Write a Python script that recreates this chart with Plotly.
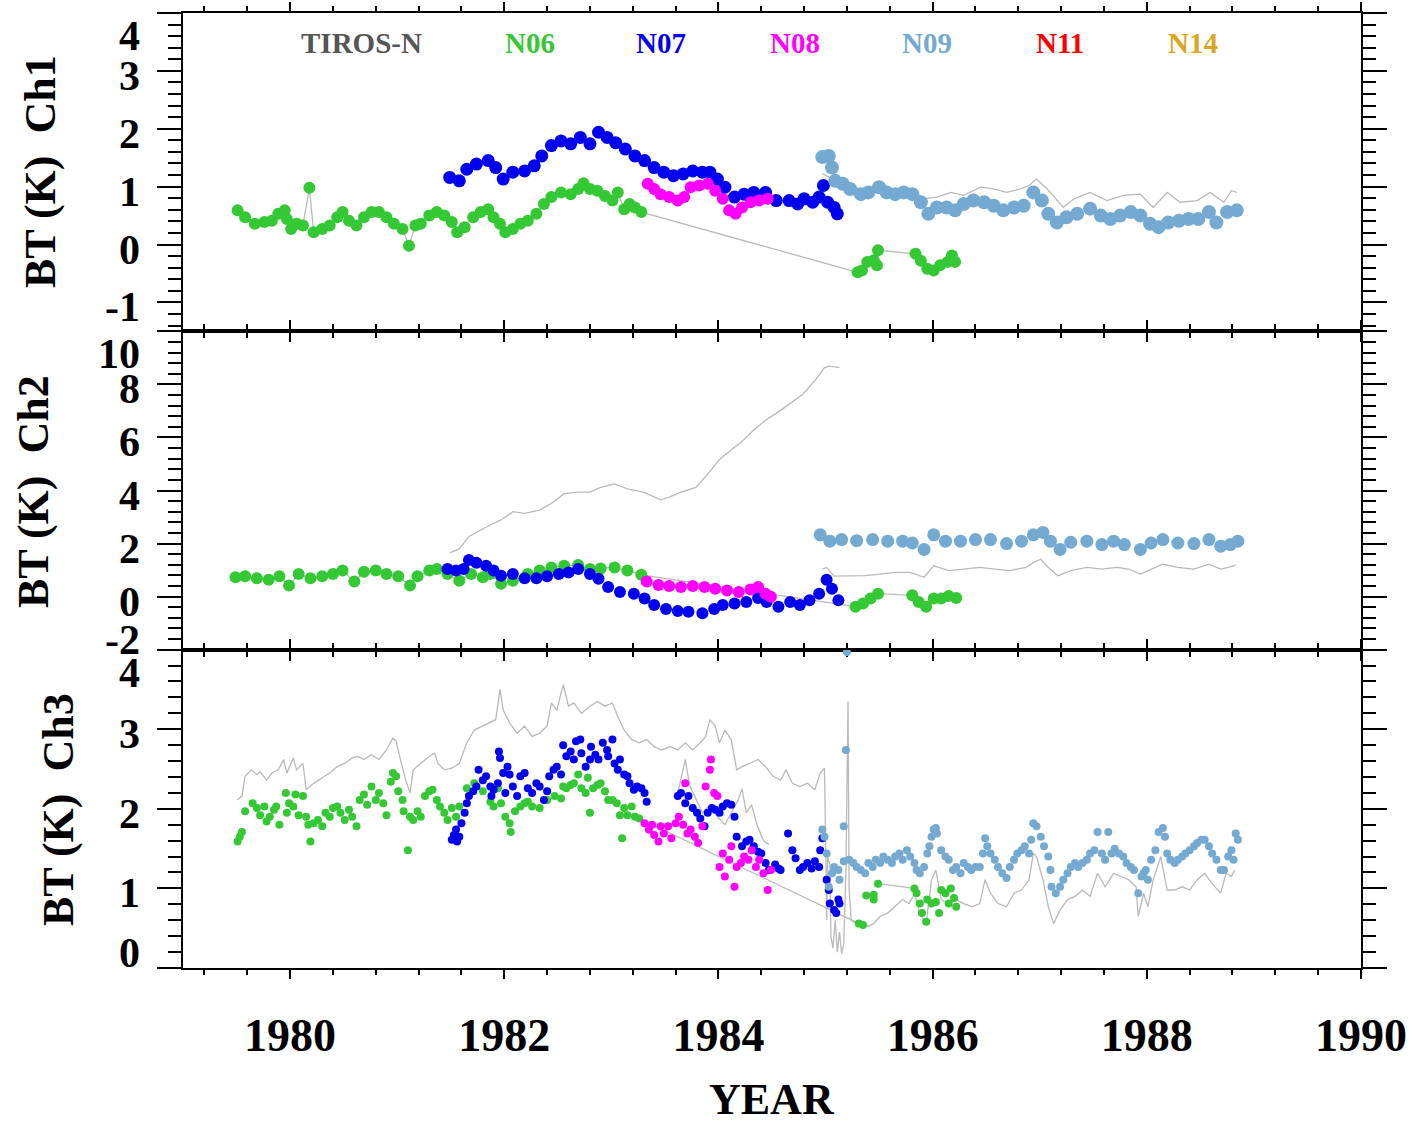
import plotly.graph_objects as go
from plotly.subplots import make_subplots

# ---------------- DATA ----------------
# Ch1
ch1_n06_year = [1979.51,1979.58,1979.67,1979.76,1979.83,1979.89,1979.95,1979.97,1980.01,1980.06,1980.12,1980.18,1980.22,1980.30,1980.37,1980.44,1980.49,1980.55,1980.62,1980.69,1980.76,1980.83,1980.90,1980.97,1981.05,1981.11,1981.17,1981.22,1981.30,1981.37,1981.44,1981.51,1981.56,1981.63,1981.71,1981.78,1981.85,1981.90,1981.96,1982.01,1982.08,1982.15,1982.22,1982.30,1982.37,1982.44,1982.53,1982.62,1982.69,1982.74,1982.80,1982.87,1982.94,1983.01,1983.06,1983.12,1983.17,1983.22,1983.28,1985.30,1985.34,1985.39,1985.45,1985.48,1985.49,1985.84,1985.89,1985.95,1986.01,1986.07,1986.14,1986.18,1986.21]
ch1_n06_bt = [0.59,0.47,0.36,0.39,0.41,0.53,0.59,0.44,0.27,0.36,0.33,0.98,0.21,0.27,0.33,0.47,0.56,0.41,0.33,0.47,0.56,0.56,0.47,0.36,0.27,-0.02,0.33,0.36,0.50,0.56,0.50,0.39,0.21,0.30,0.47,0.56,0.61,0.47,0.36,0.21,0.27,0.36,0.41,0.53,0.70,0.82,0.90,0.87,0.96,1.06,0.96,0.93,0.84,0.76,0.90,0.61,0.70,0.64,0.56,-0.48,-0.45,-0.30,-0.27,-0.36,-0.10,-0.16,-0.28,-0.42,-0.45,-0.36,-0.30,-0.19,-0.30]

ch1_n07_year = [1981.49,1981.58,1981.65,1981.74,1981.85,1981.92,1981.99,1982.08,1982.19,1982.28,1982.35,1982.44,1982.53,1982.62,1982.71,1982.80,1982.88,1982.96,1983.04,1983.13,1983.22,1983.31,1983.40,1983.49,1983.58,1983.67,1983.76,1983.85,1983.92,1983.99,1984.06,1984.15,1984.24,1984.33,1984.44,1984.54,1984.66,1984.74,1984.80,1984.88,1984.94,1984.98,1985.02,1985.08,1985.11]
ch1_n07_bt = [1.16,1.10,1.30,1.39,1.45,1.33,1.13,1.25,1.27,1.36,1.53,1.71,1.79,1.74,1.85,1.74,1.94,1.85,1.76,1.65,1.53,1.45,1.33,1.25,1.19,1.22,1.27,1.25,1.25,1.13,0.99,0.82,0.87,0.90,0.90,0.76,0.76,0.70,0.79,0.73,0.82,1.02,0.73,0.64,0.53]

ch1_n08_year = [1983.34,1983.40,1983.46,1983.54,1983.62,1983.68,1983.74,1983.82,1983.90,1983.97,1984.04,1984.10,1984.16,1984.22,1984.30,1984.38,1984.46]
ch1_n08_bt = [1.05,0.96,0.87,0.82,0.76,0.82,0.99,1.02,1.05,0.93,0.79,0.59,0.53,0.64,0.73,0.76,0.79]

ch1_n09_year = [1984.97,1985.03,1985.06,1985.09,1985.16,1985.23,1985.33,1985.40,1985.50,1985.57,1985.65,1985.73,1985.81,1985.89,1985.96,1986.04,1986.13,1986.21,1986.29,1986.38,1986.48,1986.57,1986.66,1986.76,1986.85,1986.94,1987.02,1987.08,1987.16,1987.25,1987.35,1987.47,1987.57,1987.66,1987.75,1987.85,1987.94,1988.03,1988.11,1988.20,1988.30,1988.39,1988.48,1988.58,1988.65,1988.75,1988.84]
ch1_n09_bt = [1.51,1.53,1.33,1.10,1.05,0.96,0.87,0.90,0.99,0.90,0.87,0.90,0.87,0.73,0.53,0.64,0.64,0.59,0.70,0.76,0.73,0.67,0.59,0.64,0.67,0.90,0.76,0.53,0.38,0.47,0.53,0.62,0.50,0.44,0.50,0.56,0.50,0.36,0.30,0.38,0.41,0.44,0.44,0.56,0.38,0.56,0.59]

ch1_gray_year = [1984.97,1985.08,1985.20,1985.39,1985.51,1985.67,1985.82,1985.92,1986.04,1986.17,1986.29,1986.45,1986.57,1986.69,1986.82,1986.90,1986.97,1987.07,1987.22,1987.32,1987.47,1987.63,1987.78,1987.94,1988.06,1988.19,1988.31,1988.47,1988.59,1988.72,1988.79,1988.84]
ch1_gray_bt = [1.22,1.13,1.02,0.93,1.00,0.93,0.92,0.79,0.82,0.90,0.85,0.99,0.96,0.90,0.96,1.02,1.13,0.96,0.64,0.79,0.90,0.76,0.85,0.87,0.64,0.90,0.73,0.76,0.90,0.73,0.93,0.90]

# Ch2
ch2_n06_year = [1979.49,1979.58,1979.69,1979.80,1979.90,1979.99,1980.08,1980.19,1980.30,1980.40,1980.49,1980.60,1980.69,1980.80,1980.90,1981.01,1981.12,1981.19,1981.30,1981.37,1981.47,1981.58,1981.69,1981.80,1981.87,1981.97,1982.08,1982.22,1982.33,1982.44,1982.56,1982.69,1982.80,1982.90,1983.03,1983.15,1983.28,1985.28,1985.35,1985.42,1985.49,1985.81,1985.87,1985.94,1986.01,1986.08,1986.15,1986.22]
ch2_n06_bt = [0.73,0.77,0.69,0.64,0.77,0.42,0.85,0.69,0.77,0.85,0.98,0.57,0.94,0.98,0.85,0.77,0.42,0.77,0.98,1.04,0.85,0.60,0.85,0.73,0.85,0.48,0.60,0.85,0.98,1.10,1.16,1.19,1.04,1.06,1.10,0.98,0.82,-0.38,-0.26,-0.07,0.11,0.05,-0.20,-0.38,-0.07,-0.07,0.02,-0.05]

ch2_n07_year = [1981.47,1981.55,1981.62,1981.67,1981.74,1981.83,1981.90,1981.97,1982.08,1982.19,1982.30,1982.40,1982.51,1982.60,1982.69,1982.80,1982.88,1982.97,1983.08,1983.21,1983.31,1983.40,1983.51,1983.62,1983.72,1983.85,1983.96,1984.04,1984.15,1984.26,1984.37,1984.45,1984.56,1984.67,1984.76,1984.85,1984.94,1985.01,1985.06,1985.12]
ch2_n07_bt = [1.04,0.98,1.04,1.38,1.28,1.16,0.98,0.79,0.85,0.69,0.69,0.77,0.85,0.91,1.04,0.85,0.67,0.36,0.17,0.11,-0.07,-0.32,-0.47,-0.54,-0.57,-0.63,-0.47,-0.32,-0.26,-0.20,-0.05,-0.20,-0.38,-0.20,-0.32,-0.14,0.11,0.64,0.30,-0.14]

ch2_n08_year = [1983.33,1983.44,1983.54,1983.65,1983.76,1983.87,1983.97,1984.08,1984.19,1984.30,1984.37,1984.44,1984.49]
ch2_n08_bt = [0.57,0.44,0.40,0.36,0.40,0.36,0.30,0.23,0.17,0.27,0.36,0.11,-0.01]

ch2_n09_year = [1984.95,1985.04,1985.15,1985.29,1985.44,1985.58,1985.72,1985.81,1985.92,1986.01,1986.12,1986.26,1986.40,1986.54,1986.69,1986.83,1986.94,1987.03,1987.10,1987.19,1987.29,1987.44,1987.58,1987.69,1987.79,1987.94,1988.04,1988.15,1988.29,1988.44,1988.58,1988.69,1988.78,1988.85]
ch2_n09_bt = [2.33,2.09,2.15,2.11,2.15,2.09,2.09,2.02,1.78,2.33,2.09,2.09,2.15,2.15,2.00,2.09,2.33,2.42,2.09,1.78,2.05,2.09,1.96,2.09,1.96,1.78,2.02,2.15,2.02,2.00,2.15,1.90,1.96,2.09]

ch2_gray_hi_year = [1981.49,1981.58,1981.67,1981.78,1981.87,1981.97,1982.08,1982.19,1982.33,1982.44,1982.56,1982.69,1982.80,1982.90,1983.03,1983.15,1983.30,1983.46,1983.54,1983.65,1983.79,1983.90,1984.01,1984.12,1984.22,1984.33,1984.44,1984.58,1984.69,1984.79,1984.90,1984.99,1985.04,1985.13]
ch2_gray_hi_bt = [1.65,1.80,2.27,2.52,2.70,2.89,3.20,3.14,3.26,3.51,3.88,3.94,3.94,4.12,4.25,4.06,3.94,3.65,3.75,3.94,4.12,4.62,5.17,5.54,5.85,6.28,6.65,7.02,7.33,7.64,8.14,8.63,8.69,8.63]

ch2_gray_lo_year = [1984.97,1985.01,1985.08,1985.22,1985.37,1985.51,1985.65,1985.79,1985.92,1986.01,1986.15,1986.29,1986.44,1986.58,1986.72,1986.87,1986.94,1987.01,1987.08,1987.17,1987.29,1987.44,1987.58,1987.72,1987.83,1987.94,1988.04,1988.15,1988.29,1988.44,1988.58,1988.69,1988.76,1988.83]
ch2_gray_lo_bt = [1.04,1.10,0.77,0.79,0.79,0.85,0.91,0.91,0.73,1.16,0.98,1.04,1.10,1.04,0.98,1.10,1.28,1.41,1.10,0.79,0.98,1.10,1.04,1.10,1.04,0.85,1.04,1.22,1.10,1.04,1.22,1.04,1.10,1.19]

# Ch3
ch3_n06_year = [1979.51,1979.53,1979.55,1979.58,1979.65,1979.69,1979.72,1979.76,1979.78,1979.81,1979.85,1979.87,1979.90,1979.96,1979.97,1979.99,1980.03,1980.05,1980.08,1980.12,1980.15,1980.17,1980.19,1980.22,1980.26,1980.30,1980.33,1980.37,1980.40,1980.44,1980.47,1980.51,1980.55,1980.58,1980.62,1980.65,1980.69,1980.72,1980.76,1980.80,1980.83,1980.87,1980.90,1980.94,1980.96,1980.99,1981.01,1981.05,1981.06,1981.10,1981.12,1981.15,1981.19,1981.22,1981.26,1981.30,1981.33,1981.37,1981.40,1981.44,1981.47,1981.51,1981.55,1981.58,1981.65,1981.72,1981.80,1981.87,1981.90,1981.94,1981.97,1982.01,1982.05,1982.06,1982.10,1982.15,1982.19,1982.22,1982.26,1982.33,1982.40,1982.47,1982.53,1982.55,1982.58,1982.62,1982.65,1982.69,1982.72,1982.76,1982.78,1982.80,1982.83,1982.87,1982.90,1982.94,1982.97,1983.01,1983.05,1983.08,1983.10,1983.12,1983.15,1983.19,1983.22,1983.26,1985.31,1985.35,1985.38,1985.45,1985.45,1985.49,1985.83,1985.85,1985.88,1985.90,1985.94,1985.95,1985.99,1986.03,1986.06,1986.08,1986.12,1986.15,1986.17,1986.20,1986.22]
ch3_n06_bt = [1.59,1.65,1.71,1.97,2.07,2.01,1.92,2.03,1.84,1.90,1.99,2.03,1.80,2.20,1.95,2.07,2.03,2.18,1.92,2.16,1.90,1.80,1.59,1.82,1.86,1.78,1.95,1.90,2.01,2.03,1.95,1.86,1.99,1.90,1.78,2.11,2.18,2.05,2.28,2.11,2.20,2.07,1.92,2.34,2.45,2.41,2.22,2.11,1.97,1.48,1.90,1.86,1.97,1.90,2.16,2.22,2.24,2.11,2.03,1.95,1.86,2.01,1.90,2.03,2.26,2.32,2.22,2.09,2.03,2.26,2.07,1.90,1.82,1.71,1.97,2.03,2.07,2.09,2.03,2.01,2.11,2.16,2.13,2.28,2.26,2.30,2.32,2.43,2.26,2.20,2.39,1.95,2.26,2.30,2.32,2.22,2.11,2.11,2.07,1.92,1.63,2.01,1.92,2.03,1.90,1.88,0.56,0.54,0.91,0.92,0.86,1.06,1.00,0.94,0.81,0.69,0.58,0.86,0.81,0.83,0.69,0.98,0.94,0.81,1.00,0.88,0.77]

ch3_n07_year = [1981.51,1981.53,1981.55,1981.56,1981.58,1981.60,1981.63,1981.65,1981.67,1981.71,1981.74,1981.76,1981.80,1981.83,1981.87,1981.88,1981.90,1981.94,1981.95,1981.96,1981.99,1982.01,1982.03,1982.05,1982.08,1982.12,1982.15,1982.19,1982.22,1982.26,1982.30,1982.33,1982.37,1982.40,1982.42,1982.46,1982.49,1982.53,1982.55,1982.58,1982.62,1982.65,1982.67,1982.71,1982.72,1982.76,1982.80,1982.81,1982.85,1982.88,1982.92,1982.96,1982.97,1983.01,1983.03,1983.06,1983.08,1983.12,1983.15,1983.17,1983.21,1983.24,1983.28,1983.31,1983.33,1983.62,1983.65,1983.69,1983.72,1983.76,1983.80,1983.83,1983.87,1983.90,1983.94,1983.97,1984.01,1984.04,1984.08,1984.12,1984.15,1984.17,1984.22,1984.26,1984.29,1984.33,1984.37,1984.40,1984.44,1984.47,1984.53,1984.56,1984.58,1984.65,1984.69,1984.72,1984.76,1984.79,1984.83,1984.87,1984.90,1984.94,1984.95,1984.97,1985.01,1985.03,1985.04,1985.08,1985.10,1985.12,1985.13]
ch3_n07_bt = [1.61,1.67,1.74,1.59,1.65,1.82,1.95,2.07,2.16,2.22,2.28,2.49,2.36,2.41,2.28,2.16,2.24,2.32,2.72,2.64,2.45,2.20,2.53,2.43,2.28,2.16,2.41,2.45,2.26,2.20,2.32,2.28,2.11,2.22,2.41,2.49,2.53,2.43,2.80,2.66,2.72,2.62,2.85,2.87,2.70,2.53,2.62,2.78,2.68,2.62,2.83,2.74,2.66,2.87,2.57,2.49,2.62,2.43,2.41,2.32,2.24,2.28,2.26,2.20,2.09,2.16,2.20,2.07,2.16,2.01,1.95,1.88,1.78,1.95,2.01,1.99,1.95,2.03,2.07,2.05,1.90,1.65,1.53,1.59,1.61,1.53,1.46,1.44,1.32,1.23,1.30,1.25,1.23,1.69,1.48,1.38,1.23,1.27,1.32,1.25,1.34,1.27,1.48,1.63,1.11,0.98,0.81,0.73,0.69,0.86,0.81]

ch3_n08_year = [1983.31,1983.35,1983.38,1983.40,1983.44,1983.46,1983.49,1983.53,1983.56,1983.60,1983.63,1983.67,1983.69,1983.71,1983.74,1983.78,1983.81,1983.85,1983.88,1983.92,1983.93,1983.96,1983.99,1984.01,1984.04,1984.06,1984.10,1984.12,1984.15,1984.17,1984.21,1984.24,1984.28,1984.31,1984.35,1984.38,1984.42,1984.46,1984.49]
ch3_n08_bt = [1.82,1.74,1.80,1.67,1.59,1.78,1.69,1.78,1.63,1.82,1.90,1.80,2.32,1.69,1.74,1.65,1.57,1.78,2.28,2.49,2.62,2.20,2.16,1.27,1.44,1.15,1.36,1.53,1.02,1.27,1.32,1.40,1.36,1.48,1.27,1.36,1.19,0.98,1.23]

ch3_n09_year = [1984.97,1984.99,1985.01,1985.03,1985.06,1985.08,1985.12,1985.13,1985.17,1985.19,1985.20,1985.17,1985.22,1985.26,1985.29,1985.33,1985.37,1985.40,1985.44,1985.47,1985.51,1985.54,1985.58,1985.62,1985.65,1985.69,1985.72,1985.76,1985.79,1985.83,1985.85,1985.88,1985.92,1985.95,1985.97,1985.99,1986.01,1986.03,1986.04,1986.08,1986.12,1986.15,1986.19,1986.22,1986.26,1986.29,1986.33,1986.36,1986.40,1986.44,1986.47,1986.49,1986.51,1986.54,1986.58,1986.61,1986.65,1986.69,1986.72,1986.76,1986.79,1986.83,1986.86,1986.90,1986.92,1986.94,1986.97,1987.01,1987.04,1987.08,1987.10,1987.11,1987.15,1987.19,1987.22,1987.26,1987.29,1987.33,1987.36,1987.40,1987.44,1987.47,1987.51,1987.54,1987.58,1987.61,1987.64,1987.67,1987.70,1987.74,1987.78,1987.81,1987.85,1987.88,1987.92,1987.95,1987.97,1987.99,1988.01,1988.04,1988.08,1988.11,1988.15,1988.17,1988.19,1988.22,1988.26,1988.29,1988.33,1988.36,1988.40,1988.44,1988.47,1988.51,1988.54,1988.58,1988.61,1988.65,1988.69,1988.72,1988.76,1988.79,1988.81,1988.83,1988.85]
ch3_n09_bt = [1.74,1.65,1.44,1.02,1.19,1.27,1.23,1.11,1.78,2.74,3.97,1.34,1.36,1.32,1.27,1.23,1.19,1.32,1.27,1.36,1.32,1.40,1.36,1.32,1.40,1.44,1.36,1.48,1.40,1.32,1.23,1.19,1.27,1.44,1.53,1.65,1.74,1.76,1.69,1.48,1.40,1.36,1.23,1.27,1.19,1.32,1.27,1.23,1.27,1.27,1.44,1.63,1.53,1.44,1.36,1.27,1.19,1.13,1.27,1.36,1.44,1.48,1.53,1.44,1.61,1.82,1.78,1.65,1.53,1.40,1.23,1.02,0.94,1.02,1.11,1.19,1.27,1.32,1.27,1.32,1.36,1.44,1.48,1.71,1.44,1.36,1.71,1.44,1.50,1.44,1.40,1.32,1.27,1.23,0.94,1.15,1.19,1.23,1.11,1.36,1.48,1.71,1.76,1.65,1.44,1.36,1.32,1.36,1.40,1.44,1.48,1.53,1.57,1.61,1.61,1.53,1.44,1.36,1.23,1.23,1.40,1.48,1.36,1.69,1.61]

ch3_gray_year = [1979.51,1979.55,1979.58,1979.64,1979.69,1979.72,1979.78,1979.83,1979.89,1979.94,1979.97,1980.03,1980.06,1980.12,1980.15,1980.22,1980.30,1980.37,1980.44,1980.51,1980.58,1980.63,1980.69,1980.76,1980.83,1980.90,1980.96,1980.99,1981.03,1981.08,1981.12,1981.15,1981.22,1981.30,1981.35,1981.38,1981.44,1981.51,1981.58,1981.65,1981.72,1981.80,1981.87,1981.92,1981.96,1981.99,1982.05,1982.12,1982.19,1982.26,1982.33,1982.40,1982.44,1982.49,1982.55,1982.60,1982.65,1982.72,1982.80,1982.87,1982.94,1983.01,1983.06,1983.12,1983.19,1983.26,1983.33,1983.40,1983.47,1983.55,1983.62,1983.69,1983.76,1983.83,1983.88,1983.92,1983.97,1984.01,1984.06,1984.12,1984.17,1984.22,1984.29,1984.37,1984.44,1984.51,1984.58,1984.63,1984.69,1984.76,1984.83,1984.90,1984.95,1984.99,1985.00,1985.01,1985.02,1985.04,1985.05,1985.07,1985.09,1985.11,1985.13,1985.15,1985.17,1985.19,1985.21,1985.22,1985.24,1985.29,1985.35,1985.40,1985.45,1985.51,1985.58,1985.65,1985.72,1985.78,1985.83,1985.88,1985.94,1985.99,1986.03,1986.08,1986.15,1986.22,1986.29,1986.37,1986.44,1986.49,1986.54,1986.61,1986.69,1986.76,1986.83,1986.90,1986.94,1986.97,1987.03,1987.08,1987.13,1987.19,1987.26,1987.33,1987.40,1987.47,1987.54,1987.61,1987.69,1987.76,1987.83,1987.90,1987.92,1987.97,1988.01,1988.06,1988.13,1988.19,1988.26,1988.33,1988.40,1988.47,1988.54,1988.61,1988.69,1988.74,1988.79,1988.82]
ch3_gray_bt = [2.11,2.16,2.41,2.49,2.43,2.47,2.36,2.45,2.49,2.62,2.45,2.64,2.49,2.57,2.24,2.32,2.39,2.45,2.53,2.57,2.64,2.66,2.62,2.68,2.62,2.74,2.89,2.85,2.62,2.36,2.20,2.49,2.57,2.66,2.70,2.57,2.49,2.51,2.57,2.83,2.99,3.04,3.08,3.12,3.50,3.24,3.08,2.95,3.04,2.91,2.95,3.04,3.33,3.24,3.56,3.29,3.33,3.20,3.29,3.35,3.29,3.33,3.16,2.99,2.87,2.83,2.87,2.78,2.74,2.78,2.74,2.83,2.74,2.83,2.91,3.12,3.04,2.83,2.99,2.87,2.49,2.53,2.57,2.62,2.53,2.41,2.36,2.49,2.32,2.28,2.32,2.24,2.45,2.51,1.70,0.60,1.40,1.30,0.40,0.25,0.60,0.20,0.45,0.18,0.30,1.20,3.35,1.00,0.60,0.56,0.58,0.52,0.56,0.65,0.69,0.77,0.86,0.81,0.94,0.69,0.56,1.11,1.23,0.86,0.81,0.86,0.81,0.77,0.81,1.11,0.94,0.81,0.77,0.94,0.98,1.11,1.44,1.40,1.11,0.77,0.56,0.73,0.86,0.90,0.98,0.90,1.19,1.02,1.19,1.15,1.11,1.02,0.65,0.94,0.77,1.11,1.40,0.98,0.98,1.02,0.98,1.11,1.19,1.06,0.94,1.19,1.15,1.23]

ch3_gray2_year = [1983.62,1983.66,1983.69,1983.73,1983.78,1983.85,1983.92,1983.99,1984.06,1984.12,1984.18,1984.22,1984.26,1984.31,1984.36,1984.42,1984.47]
ch3_gray2_bt = [2.20,2.45,2.62,2.30,2.15,1.95,2.05,1.90,1.80,1.95,2.10,2.25,1.95,2.05,1.80,1.60,1.55]

ch1_ticks = [-1, 0, 1, 2, 3, 4]
ch2_ticks = [-2, 0, 2, 4, 6, 8, 10]
ch3_ticks = [0, 1, 2, 3, 4]
year_ticks = [1980, 1982, 1984, 1986, 1988, 1990]
sat_names = ["TIROS-N", "N06", "N07", "N08", "N09", "N11", "N14"]
panel_titles = ["BT (K)  Ch1", "BT (K)  Ch2", "BT (K)  Ch3"]

# ---------------- STYLE ----------------
W, H = 1414, 1123
ML, MR, MT, MB = 183, 53, 13, 155
PW, PH = W - ML - MR, H - MT - MB
FONT = "Liberation Serif"
sat_colors = {"TIROS-N": "#555555", "N06": "#34c834", "N07": "#0000f0", "N08": "#ff00ff",
              "N09": "#74a9d2", "N11": "#ff0000", "N14": "#daa520"}
GRAY = "#b9b9b9"


def px_x(p):
    return (p - ML) / PW


def px_y(p):
    return (H - MB - p) / PH


def gap_segments(xs, ys, gap=0.3):
    ox, oy = [], []
    for i in range(len(xs) - 1):
        if xs[i + 1] - xs[i] > gap:
            ox += [xs[i], xs[i + 1], None]
            oy += [ys[i], ys[i + 1], None]
    return ox, oy


fig = make_subplots(rows=3, cols=1, shared_xaxes=True, vertical_spacing=0)


def line(x, y, row, width=1.3):
    fig.add_trace(go.Scatter(x=x, y=y, mode="lines", line=dict(color=GRAY, width=width),
                             showlegend=False, hoverinfo="skip"), row=row, col=1)


def dots(x, y, name, row, size):
    fig.add_trace(go.Scatter(x=x, y=y, mode="markers", name=name,
                             marker=dict(color=sat_colors[name], size=size, line=dict(width=0)),
                             showlegend=False), row=row, col=1)


# Panel 1
line(ch1_gray_year, ch1_gray_bt, 1)
line(ch1_n06_year, ch1_n06_bt, 1)
dots(ch1_n06_year, ch1_n06_bt, "N06", 1, 12)
dots(ch1_n07_year, ch1_n07_bt, "N07", 1, 13)
dots(ch1_n08_year, ch1_n08_bt, "N08", 1, 12)
dots(ch1_n09_year, ch1_n09_bt, "N09", 1, 14)
# Panel 2
line(ch2_gray_hi_year, ch2_gray_hi_bt, 2)
line(ch2_gray_lo_year, ch2_gray_lo_bt, 2)
line(ch2_n06_year, ch2_n06_bt, 2)
dots(ch2_n06_year, ch2_n06_bt, "N06", 2, 12)
dots(ch2_n07_year, ch2_n07_bt, "N07", 2, 12)
dots(ch2_n08_year, ch2_n08_bt, "N08", 2, 12)
dots(ch2_n09_year, ch2_n09_bt, "N09", 2, 13)
# Panel 3
line(ch3_gray_year, ch3_gray_bt, 3)
line(ch3_gray2_year, ch3_gray2_bt, 3)
gx, gy = gap_segments(ch3_n06_year, ch3_n06_bt)
line(gx, gy, 3)
dots(ch3_n06_year, ch3_n06_bt, "N06", 3, 8)
dots(ch3_n07_year, ch3_n07_bt, "N07", 3, 8)
dots(ch3_n08_year, ch3_n08_bt, "N08", 3, 8)
dots(ch3_n09_year, ch3_n09_bt, "N09", 3, 8)

axis_common = dict(showline=True, linecolor="black", linewidth=2, mirror="ticks",
                   ticks="outside", tickcolor="black", tickwidth=2,
                   showgrid=False, zeroline=False, automargin=False)

for r in (1, 2, 3):
    fig.update_xaxes(range=[1979, 1990], tickmode="array", tickvals=year_ticks, ticklen=9,
                     minor=dict(ticks="outside", dtick=0.4, tick0=1980, ticklen=5,
                                tickcolor="black", tickwidth=1.5),
                     **axis_common, row=r, col=1)

fig.update_xaxes(showticklabels=True, ticklabelstandoff=17,
                 tickfont=dict(family=FONT, size=46, color="black", weight="bold"), row=3, col=1)

yranges = [[-1.5, 4], [-2, 10], [0, 4]]
yticks = [ch1_ticks, ch2_ticks, ch3_ticks]
ydt = [1, 2, 1]
for r in (1, 2, 3):
    fig.update_yaxes(range=yranges[r - 1], tickmode="array", tickvals=yticks[r - 1],
                     ticklen=24, showticklabels=False,
                     minor=dict(ticks="outside", dtick=ydt[r - 1] / 5, tick0=0, ticklen=13,
                                tickcolor="black", tickwidth=1.5),
                     **axis_common, row=r, col=1)

annotations = []
# y tick labels (end labels nudged inward as in the original)
ends = {("y", 4): -23, ("y2", 10): -23, ("y2", -2): 10, ("y3", 4): -23, ("y3", 0): 15}
for ref, ticks in zip(["y", "y2", "y3"], yticks):
    for t in ticks:
        annotations.append(dict(x=px_x(142), xref="paper", y=t, yref=ref, text=str(t),
                                xanchor="right", yanchor="middle", showarrow=False,
                                yshift=ends.get((ref, t), -5),
                                font=dict(family=FONT, size=42, color="black", weight="bold")))
# panel titles
for title, cx, cy in zip(panel_titles, [40, 33, 58], [172, 492, 810]):
    annotations.append(dict(x=px_x(cx), y=px_y(cy), xref="paper", yref="paper", text=title,
                            textangle=-90, showarrow=False, xanchor="center", yanchor="middle",
                            font=dict(family=FONT, size=44, color="black", weight="bold")))
# satellite labels
for name, cx in zip(sat_names, [361, 530, 661, 795, 927, 1060, 1193]):
    annotations.append(dict(x=px_x(cx), y=px_y(43), xref="paper", yref="paper", text=name,
                            showarrow=False, xanchor="center", yanchor="middle",
                            font=dict(family=FONT, size=29, color=sat_colors[name], weight="bold")))
# x-axis title
annotations.append(dict(x=0.5, y=px_y(1099), xref="paper", yref="paper", text="YEAR",
                        showarrow=False, xanchor="center", yanchor="middle",
                        font=dict(family=FONT, size=44, color="black", weight="bold")))

fig.update_layout(width=W, height=H, margin=dict(l=ML, r=MR, t=MT, b=MB, autoexpand=False),
                  paper_bgcolor="white", plot_bgcolor="white", showlegend=False,
                  annotations=annotations)

fig.write_html("out.html")
